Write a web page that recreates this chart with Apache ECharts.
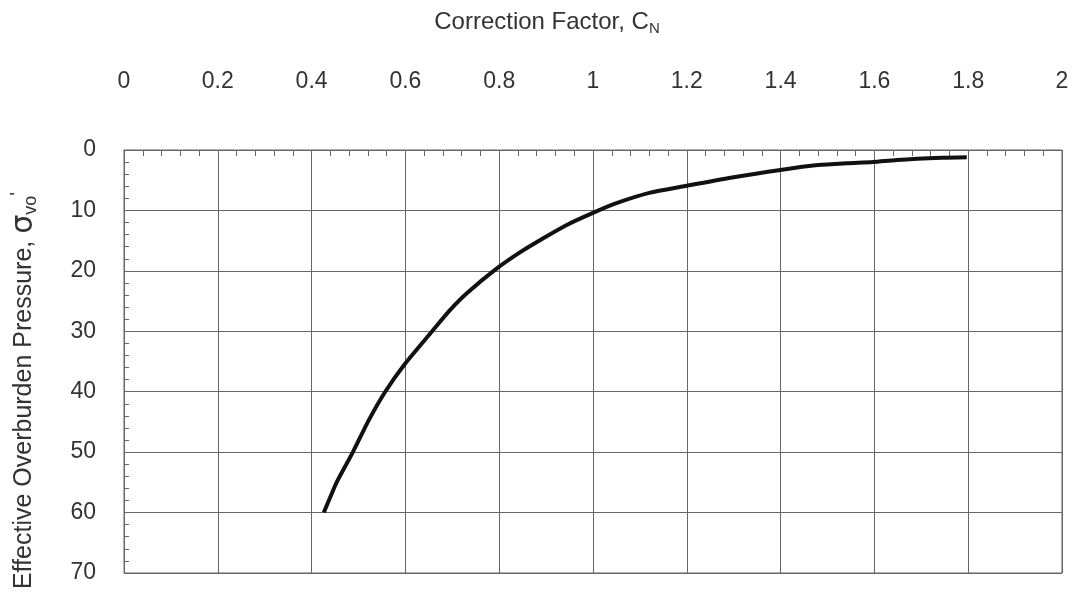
<!DOCTYPE html>
<html>
<head>
<meta charset="utf-8">
<title>Correction Factor C_N vs Effective Overburden Pressure</title>
<script src="https://cdn.jsdelivr.net/npm/echarts@6/dist/echarts.min.js"></script>
<style>
  html, body { margin: 0; padding: 0; background: #ffffff; }
  #chart { width: 1082px; height: 595px; }
</style>
</head>
<body>
<div id="chart"></div>
<script>
// Correction factor C_N (x values)
const cnValues = [
  0.426, 0.446, 0.456, 0.488, 0.522, 0.557, 0.600, 0.657,
  0.695, 0.731, 0.795, 0.845, 0.894, 0.944, 1.000, 1.050, 1.120,
  1.194, 1.300, 1.400, 1.480, 1.540, 1.597, 1.648, 1.744, 1.797
];
// Effective overburden pressure at each point (y values, increasing downward)
const stressValues = [
  60.0, 56.3, 54.6, 50.0, 44.7, 40.0, 35.3, 30.0,
  26.5, 23.7, 19.6, 16.9, 14.6, 12.4, 10.4, 8.8, 7.1,
  6.0, 4.5, 3.3, 2.5, 2.2, 2.0, 1.66, 1.3, 1.2
];
// Axis ranges and tick spacing
const xTicks = { min: 0, max: 2, interval: 0.2 };
const yTicks = { min: 0, max: 70, interval: 10 };

const curve = cnValues.map((c, i) => [c, stressValues[i]]);

const labelFont = 'Liberation Sans, Arial, sans-serif';
const gridColor = '#666666';
const textColor = '#333333';

const chart = echarts.init(document.getElementById('chart'), null, { renderer: 'canvas' });
chart.setOption({
  backgroundColor: '#ffffff',
  animation: false,
  grid: {
    left: 124, right: 20, top: 150, bottom: 22,
    outerBoundsMode: 'none',
    containLabel: false,
    show: true, borderColor: gridColor, borderWidth: 1, backgroundColor: 'transparent'
  },
  xAxis: {
    type: 'value',
    position: 'top',
    min: xTicks.min, max: xTicks.max, interval: xTicks.interval,
    name: 'Correction Factor, C{sub|N}',
    nameLocation: 'middle',
    nameGap: 114,
    nameTextStyle: {
      fontFamily: labelFont, fontSize: 24, color: textColor,
      padding: [0, 92, 0, 0],
      rich: {
        sub: { fontFamily: labelFont, fontSize: 15, color: textColor, verticalAlign: 'bottom', padding: [12, 0, 0, 0] }
      }
    },
    axisLine: { show: true, lineStyle: { color: gridColor, width: 1 } },
    axisTick: { show: true, inside: true, length: 6, lineStyle: { color: gridColor } },
    minorTick: { show: true, splitNumber: 5, length: 6, lineStyle: { color: gridColor } },
    axisLabel: {
      margin: 57, fontFamily: labelFont, fontSize: 23, color: textColor,
      formatter: v => String(Math.round(v * 10) / 10)
    },
    splitLine: { show: true, lineStyle: { color: gridColor, width: 1 } }
  },
  yAxis: {
    type: 'value',
    inverse: true,
    min: yTicks.min, max: yTicks.max, interval: yTicks.interval,
    name: 'Effective Overburden Pressure, {s|σ}{sub|vo}{sup|\'}',
    nameLocation: 'middle',
    nameRotate: 90,
    nameGap: 84,
    nameTextStyle: {
      fontFamily: labelFont, fontSize: 25, color: textColor,
      padding: [0, 58, 0, 0],
      rich: {
        s: { fontFamily: 'DejaVu Sans, sans-serif', fontSize: 30, color: textColor },
        sub: { fontFamily: labelFont, fontSize: 18, color: textColor, verticalAlign: 'bottom', padding: [14, 0, 0, 0] },
        sup: { fontFamily: labelFont, fontSize: 20, color: textColor, verticalAlign: 'top', padding: [0, 0, 10, 0] }
      }
    },
    axisLine: { show: true, lineStyle: { color: gridColor, width: 1 } },
    axisTick: { show: true, inside: true, length: 5, lineStyle: { color: gridColor } },
    minorTick: { show: true, splitNumber: 5, length: 5, lineStyle: { color: gridColor } },
    axisLabel: { margin: 28, fontFamily: labelFont, fontSize: 23, color: textColor },
    splitLine: { show: true, lineStyle: { color: gridColor, width: 1 } }
  },
  series: [{
    type: 'line',
    data: curve,
    smooth: 0.25,
    showSymbol: false,
    lineStyle: { color: '#111111', width: 4 }
  }]
});
</script>
</body>
</html>
